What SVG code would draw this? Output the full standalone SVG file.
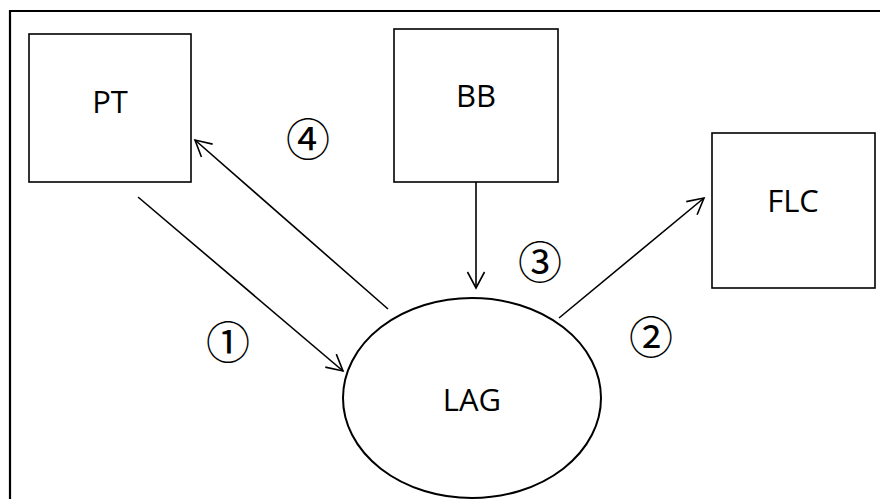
<svg xmlns="http://www.w3.org/2000/svg" width="880" height="499" viewBox="0 0 880 499">
<style>
.box{fill:#fff;stroke:#000;stroke-width:1.6}
.lbl{font-family:"Open Sans","Liberation Sans",sans-serif;font-size:31px;fill:#000;text-anchor:middle}
.num{font-family:"Noto Sans CJK JP",sans-serif;font-size:44px;font-weight:400;fill:#000;text-anchor:middle;dominant-baseline:central}
.conn{stroke:#000;stroke-width:1.6;fill:none}
</style>
<defs>
<marker id="arr" markerUnits="userSpaceOnUse" markerWidth="40" markerHeight="40" viewBox="-20 -20 40 40" refX="0" refY="0" orient="auto">
<path d="M-16,-8.5 L0,0 L-16,8.5" fill="none" stroke="#000" stroke-width="1.6"/>
</marker>
</defs>
<rect width="880" height="499" fill="#fff"/>
<g id="frame"><path d="M10,499 V11 H880" fill="none" stroke="#000" stroke-width="2.2"/></g>
<g id="PT"><rect class="box" x="29" y="34" width="162" height="148"/><text class="lbl" x="110" y="113">PT</text></g>
<g id="BB"><rect class="box" x="394" y="29" width="164" height="153"/><text class="lbl" x="476" y="107">BB</text></g>
<g id="FLC"><rect class="box" x="712" y="133" width="163" height="155"/><text class="lbl" x="793" y="212">FLC</text></g>
<g id="LAG"><ellipse cx="472" cy="398" rx="129" ry="100" fill="#fff" stroke="#000" stroke-width="2"/><text class="lbl" x="472" y="411">LAG</text></g>
<g id="connectors">
<line class="conn" x1="138" y1="197" x2="343" y2="371" marker-end="url(#arr)"/>
<line class="conn" x1="559" y1="318" x2="704" y2="198" marker-end="url(#arr)"/>
<line class="conn" x1="476" y1="182" x2="476" y2="288" marker-end="url(#arr)"/>
<line class="conn" x1="388" y1="309" x2="195" y2="140" marker-end="url(#arr)"/>
</g>
<g id="labels">
<text class="num" x="228" y="340">①</text>
<text class="num" x="651" y="335">②</text>
<text class="num" x="540" y="260">③</text>
<text class="num" x="308" y="137">④</text>
</g>
</svg>
